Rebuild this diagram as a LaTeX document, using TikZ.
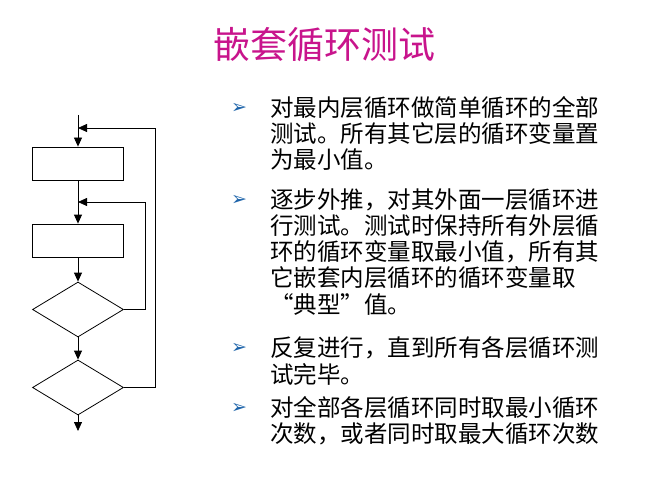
\documentclass[tikz,border=0pt]{standalone}
\usepackage{fontspec}
\usepackage{tikz}
\usetikzlibrary{shapes.geometric,arrows.meta}
\newfontfamily\cjk{Noto Sans CJK SC}
\newfontfamily\dejavu{DejaVu Sans}
\definecolor{titlepink}{RGB}{200,20,140}
\definecolor{bulletblue}{RGB}{30,100,170}
\tikzset{
  box/.style={draw,thick,minimum width=91pt,minimum height=33pt,inner sep=0pt},
  test/.style={draw,thick,diamond,aspect=1.65,minimum width=91pt,minimum height=55pt,inner sep=0pt},
  flow/.style={thick,-{Triangle[length=9pt,width=8pt]}},
  line/.style={anchor=west,inner sep=0pt,font=\cjk\fontsize{23.5}{26}\selectfont},
  bul/.style={anchor=west,inner sep=0pt,text=bulletblue,font=\dejavu\fontsize{19}{20}\selectfont}
}
\begin{document}
\begin{tikzpicture}[x=1pt,y=-1pt]
\useasboundingbox (0,0) rectangle (649,487);
% title
\node[text=titlepink,font=\cjk\fontsize{37}{40}\selectfont] (title) at (324,45) {嵌套循环测试};
% flowchart
\coordinate (start) at (78,115);
\coordinate (j1) at (78,128);
\node[box] (b1) at (78,163.5) {};
\coordinate (j2) at (78,202);
\node[box] (b2) at (78,240.5) {};
\node[test] (d1) at (78,309.5) {};
\node[test] (d2) at (78,387.5) {};
\coordinate (stop) at (78,431);
\draw[thick] (start) -- (j1);
\draw[flow] (j1) -- (b1.north);
\draw[thick] (b1.south) -- (j2);
\draw[flow] (j2) -- (b2.north);
\draw[flow] (b2.south) -- (d1.north);
\draw[flow] (d1.south) -- (d2.north);
\draw[flow] (d2.south) -- (stop);
\draw[flow] (d1.east) -| (145,202) -- (j2);
\draw[flow] (d2.east) -| (155,128) -- (j1);
% text
\foreach \y in {108,200,348,408}
  \node[bul] at (231,\y) {➢};
\node[line] (t1) at (270,108) {对最内层循环做简单循环的全部};
\node[line] (t2) at (270,134) {测试。所有其它层的循环变量置};
\node[line] (t3) at (270,160) {为最小值。};
\node[line] (t4) at (270,200) {逐步外推，对其外面一层循环进};
\node[line] (t5) at (270,226) {行测试。测试时保持所有外层循};
\node[line] (t6) at (270,252) {环的循环变量取最小值，所有其};
\node[line] (t7) at (270,278) {它嵌套内层循环的循环变量取};
\node[line] (t8) at (270,304) {“典型”值。};
\node[line] (t9) at (270,348) {反复进行，直到所有各层循环测};
\node[line] (t10) at (270,374) {试完毕。};
\node[line] (t11) at (270,408) {对全部各层循环同时取最小循环};
\node[line] (t12) at (270,434) {次数，或者同时取最大循环次数};
\end{tikzpicture}
\end{document}
